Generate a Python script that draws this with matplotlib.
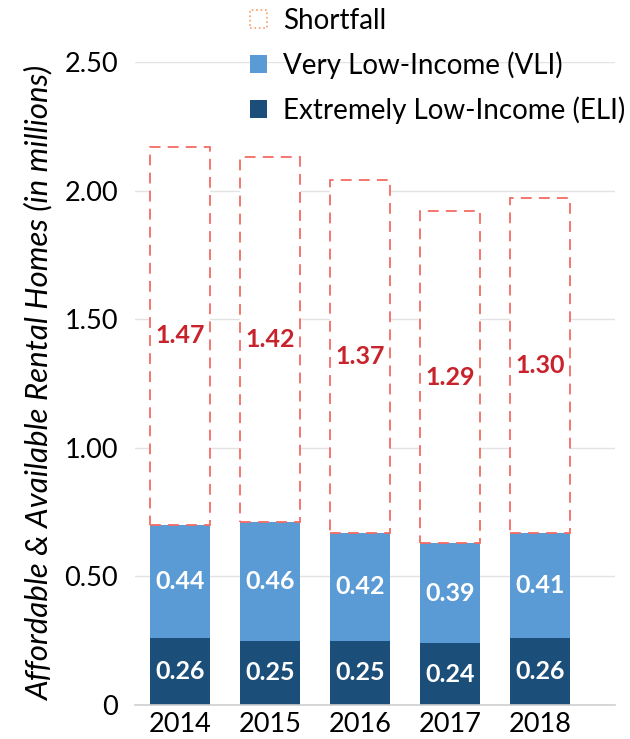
import matplotlib.pyplot as plt
from matplotlib.patches import Patch
from matplotlib.ticker import FuncFormatter

plt.rcParams['font.family'] = ['Lato', 'DejaVu Sans']

years = ['2014', '2015', '2016', '2017', '2018']
eli = [0.26, 0.25, 0.25, 0.24, 0.26]
vli = [0.44, 0.46, 0.42, 0.39, 0.41]
shortfall = [1.47, 1.42, 1.37, 1.29, 1.30]

c_eli = '#1c4e7a'
c_vli = '#5b9bd5'
c_short = '#f26b63'
c_short_txt = '#c8232c'

fig = plt.figure(figsize=(6.3, 7.39), dpi=100)
ax = fig.add_axes([0.214, 0.046, 0.762, 0.87])

x = list(range(len(years)))
w = 0.667
bot2 = [a + b for a, b in zip(eli, vli)]

ax.bar(x, eli, w, color=c_eli, zorder=2)
ax.bar(x, vli, w, bottom=eli, color=c_vli, zorder=2)
ax.bar(x, shortfall, w, bottom=bot2, facecolor='white', edgecolor=c_short,
       linestyle=(0, (6, 4)), linewidth=1.3, zorder=2)

for i in x:
    ax.text(i, eli[i] / 2, f'{eli[i]:.2f}', ha='center', va='center',
            color='white', fontsize=18, fontweight='bold', zorder=3)
    ax.text(i, eli[i] + vli[i] / 2, f'{vli[i]:.2f}', ha='center', va='center',
            color='white', fontsize=18, fontweight='bold', zorder=3)
    ax.text(i, bot2[i] + shortfall[i] / 2, f'{shortfall[i]:.2f}', ha='center',
            va='center', color=c_short_txt, fontsize=18, fontweight='bold', zorder=3)

ax.set_xlim(-0.5, 4.83)
ax.set_ylim(0, 2.5)
ax.set_yticks([0, 0.5, 1.0, 1.5, 2.0, 2.5])
ax.yaxis.set_major_formatter(FuncFormatter(lambda v, p: '0' if v == 0 else f'{v:.2f}'))
ax.set_xticks(x)
ax.set_xticklabels(years)
ax.tick_params(axis='y', length=0, pad=12, labelsize=19.5)
ax.tick_params(axis='x', length=0, pad=5, labelsize=19.5)
ax.grid(axis='y', color='#e3e3e3', linewidth=1, zorder=0)
for s in ['top', 'right', 'left']:
    ax.spines[s].set_visible(False)
ax.spines['bottom'].set_color('#cfcfcf')
ax.spines['bottom'].set_linewidth(1.2)
ax.set_ylabel('Affordable & Available Rental Homes (in millions)',
              fontsize=22.5, fontstyle='italic', labelpad=8)

handles = [
    Patch(facecolor='white', edgecolor='#f5a06a', linestyle=':', linewidth=1.2),
    Patch(facecolor=c_vli),
    Patch(facecolor=c_eli),
]
labels = ['Shortfall', 'Very Low-Income (VLI)', 'Extremely Low-Income (ELI)']
fig.legend(handles, labels, loc='upper left', bbox_to_anchor=(0.39, 0.995),
           frameon=False, fontsize=20, handlelength=0.6, handleheight=0.6,
           handletextpad=0.6, labelspacing=0.62, borderaxespad=0, borderpad=0.15)

fig.savefig('out.png', dpi=100)
